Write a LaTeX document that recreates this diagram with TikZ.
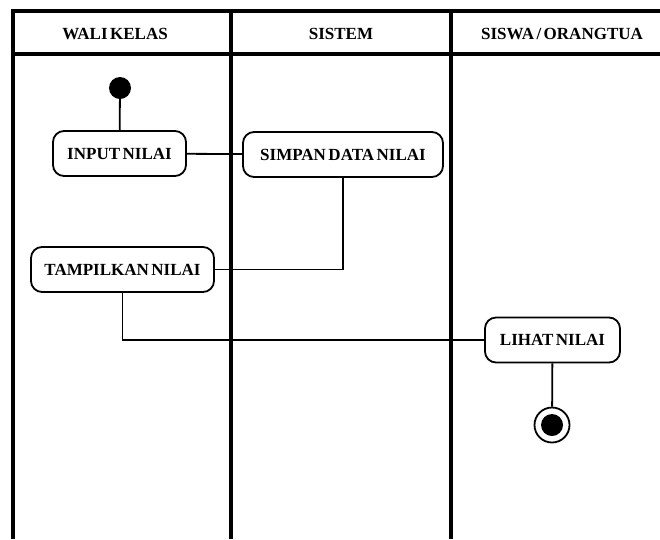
\documentclass[tikz,border=0pt]{standalone}
\usepackage{fontspec}
\setmainfont{Liberation Serif}
\newcommand\lanefont{\fontsize{17}{19}\selectfont\bfseries\spaceskip=2.5pt\relax}
\begin{document}
\begin{tikzpicture}[x=1pt,y=-1pt,
  lane/.style={line width=3.5pt},
  act/.style={draw,line width=1.8pt,rounded corners=11pt,inner sep=0pt,minimum height=45pt,font=\lanefont,align=center},
  hdr/.style={font=\lanefont,inner sep=0pt},
  flow/.style={line width=1.8pt}]
\useasboundingbox[fill=white] (0,0) rectangle (660,539);
% swimlanes
\draw[lane] (11,11) -- (660,11);
\draw[lane] (11,54) -- (660,54);
\draw[lane] (13,9) -- (13,539);
\draw[lane] (231,9) -- (231,539);
\draw[lane] (451,9) -- (451,539);
% headers
\node[hdr] (h1) at (115,34) {WALI KELAS};
\node[hdr] (h2) at (341,34) {SISTEM};
\node[hdr] (h3) at (562,34) {SISWA / ORANGTUA};
% nodes
\node[circle,fill=black,minimum size=22pt,inner sep=0pt] (start) at (120,88) {};
\node[act,minimum width=133pt] (input) at (119.5,153.5) {INPUT NILAI};
\node[act,minimum width=200pt] (simpan) at (343,154.5) {SIMPAN DATA NILAI};
\node[act,minimum width=183pt] (tampil) at (122.5,269.5) {TAMPILKAN NILAI};
\node[act,minimum width=135pt] (lihat) at (552.5,340) {LIHAT NILAI};
\node[circle,draw,line width=1.8pt,minimum size=35pt,inner sep=0pt] (end) at (552,425) {};
\node[circle,fill=black,minimum size=22pt,inner sep=0pt] (enddot) at (end.center) {};
% connectors
\draw[flow] (start) -- (input);
\draw[flow] (input) -- (simpan);
\draw[flow] (simpan.south) |- (tampil.east);
\draw[flow] (tampil.south) |- (lihat.west);
\draw[flow] (lihat) -- (end);
\end{tikzpicture}
\end{document}
